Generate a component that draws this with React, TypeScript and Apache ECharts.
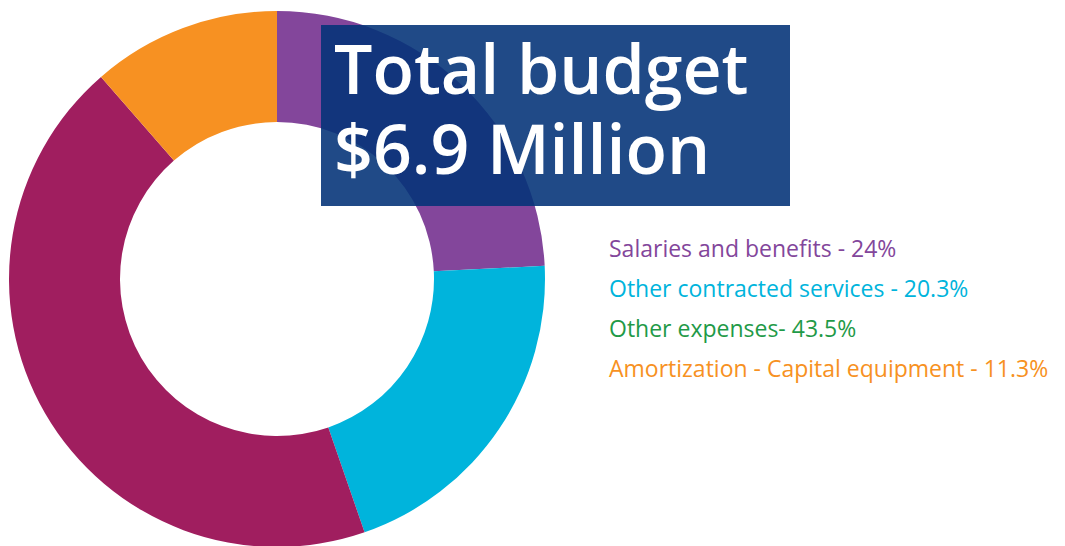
import React, { useEffect, useRef } from "react";
import * as echarts from "echarts";

const categories = [
  "Salaries and benefits",
  "Other contracted services",
  "Other expenses",
  "Amortization - Capital equipment",
];
const values = [24, 20.3, 43.5, 11.3];
const legendLabels = [
  "Salaries and benefits - 24%",
  "Other contracted services - 20.3%",
  "Other expenses- 43.5%",
  "Amortization - Capital equipment - 11.3%",
];
const sliceColors = ["#83469b", "#00b4dc", "#a01e5f", "#f79122"];
const legendColors = ["#83469b", "#00b4dc", "#1f9a48", "#f79122"];
const titleLines = ["Total budget", "$6.9 Million"];

export default function App() {
  const ref = useRef<HTMLDivElement>(null);
  useEffect(() => {
    document.body.style.margin = "0";
    const chart = echarts.init(ref.current!, null, { renderer: "svg" });
    const labelMap: Record<string, string> = {};
    categories.forEach((c, i) => (labelMap[c] = legendLabels[i]));
    chart.setOption({
      animation: false,
      backgroundColor: "#ffffff",
      legend: {
        orient: "vertical",
        left: 599,
        top: 231,
        itemWidth: 0,
        itemHeight: 0,
        itemGap: 17,
        icon: "rect",
        selectedMode: false,
        formatter: (name: string) => labelMap[name],
        data: categories.map((c, i) => ({
          name: c,
          textStyle: {
            color: legendColors[i],
            fontFamily: "Open Sans",
            fontSize: 23,
          },
        })),
      },
      series: [
        {
          type: "pie",
          center: [277, 279],
          radius: [157, 268],
          startAngle: 90,
          clockwise: true,
          label: { show: false },
          labelLine: { show: false },
          emphasis: { disabled: true },
          itemStyle: { borderWidth: 0 },
          data: categories.map((c, i) => ({
            name: c,
            value: values[i],
            itemStyle: { color: sliceColors[i] },
          })),
        },
      ],
      graphic: [
        {
          type: "rect",
          z: 100,
          shape: { x: 321, y: 25, width: 469, height: 181 },
          style: { fill: "rgba(5,52,120,0.89)" },
        },
        {
          type: "text",
          z: 101,
          x: 334,
          y: 27,
          style: {
            text: titleLines.join("\n"),
            fill: "#ffffff",
            fontFamily: "Open Sans",
            fontWeight: 600,
            fontSize: 68,
            lineHeight: 80,
            verticalAlign: "top",
          },
        },
      ],
    });
    return () => chart.dispose();
  }, []);
  return <div ref={ref} style={{ width: 1065, height: 546 }} />;
}
